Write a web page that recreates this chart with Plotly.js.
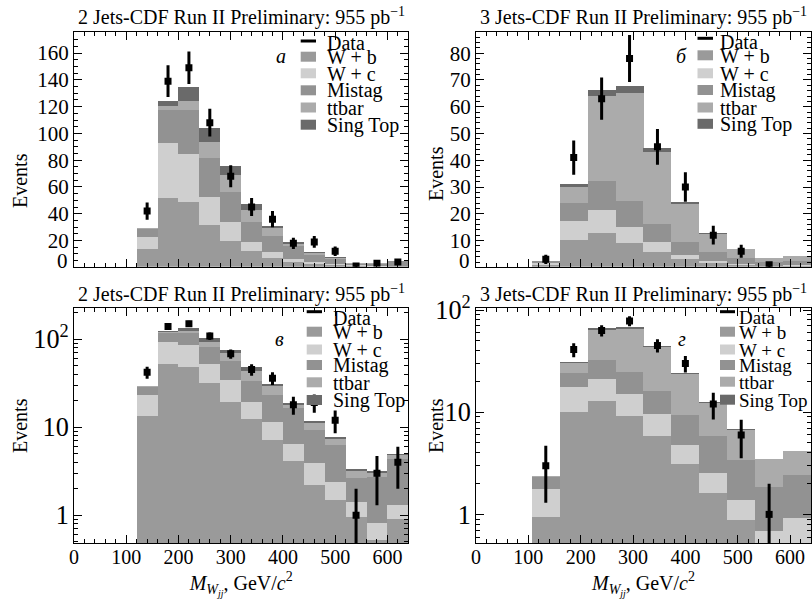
<!DOCTYPE html>
<html><head><meta charset="utf-8">
<script src="https://cdn.plot.ly/plotly-3.0.1.min.js"></script>
<style>html,body{margin:0;padding:0;background:#fff}#chart{width:812px;height:599px}</style>
</head><body><div id="chart"></div>
<script>
// ---------------- data ----------------
// 2 jets: bins of 40 GeV/c^2, centres
const mass2 = [140, 180, 220, 260, 300, 340, 380, 420, 460, 500, 540, 580, 620];
const binWidth2 = 40;
const wb2     = [13.5, 52, 48.5, 32, 19.5, 12.3, 7.1, 4.1, 2.2, 1.5, 0.96, 0.52, 0.9];
const wc2     = [9.5, 40.5, 36, 20.5, 14.5, 7.0, 4.4, 2.4, 1.7, 0.9, 0.46, 0.3, 0.4];
const mistag2 = [5.5, 25, 33, 29, 22.5, 14.3, 11.7, 9.8, 5.5, 3.85, 1.2, 1.9, 3.1];
const ttbar2  = [0.7, 3, 7, 12, 12.5, 9.5, 5.9, 1.5, 1.6, 1.0, 0.55, 0.3, 0.4];
const stop2   = [0.2, 3.5, 10, 10.5, 7, 4.5, 1.9, 0.8, 0.8, 0.5, 0.22, 0.17, 0.2];
const data2   = [42, 139, 149, 108, 68, 45, 36, 18, 19, 12, 1, 3, 4];
const err2    = [6.5, 11.8, 12.2, 10.4, 8.2, 6.7, 6.0, 4.2, 4.4, 3.5, 1, 1.7, 2];

// 3 jets: bins of 53.33 GeV/c^2, centres
const mass3 = [133.333, 186.667, 240, 293.333, 346.667, 400, 453.333, 506.667, 560, 613.333];
const binWidth3 = 53.4;
const wb3     = [0.95, 10.1, 13.0, 9.2, 5.9, 3.1, 1.63, 0.88, 0.45, 0.45];
const wc3     = [0.81, 7.4, 8.3, 5.9, 3.7, 1.7, 0.92, 0.5, 0.23, 0.48];
const mistag3 = [0.55, 6.5, 10.8, 9.8, 6.6, 4.6, 3.25, 2.02, 1.16, 1.5];
const ttbar3  = [0.05, 6.2, 31.8, 40.4, 26.9, 14.3, 6.6, 3.3, 1.65, 1.7];
const stop3   = [0.02, 1.0, 2.5, 2.3, 1.5, 0.6, 0.3, 0.17, 0.03, 0.04];
const data3   = [3, 41, 63, 78, 45, 30, 12, 6, 1, null];
const err3    = [1.7, 6.4, 7.9, 8.8, 6.7, 5.5, 3.5, 2.45, 1, 0];

const bgNames = ['W + b', 'W + c', 'Mistag', 'ttbar', 'Sing Top'];
const legendLabels = ['Data', 'W + b', 'W + c', 'Mistag', 'ttbar', 'Sing Top'];
const panelTitles = ['2 Jets-CDF Run II Preliminary: 955 pb<sup>−1</sup>',
                     '3 Jets-CDF Run II Preliminary: 955 pb<sup>−1</sup>',
                     '2 Jets-CDF Run II Preliminary: 955 pb<sup>−1</sup>',
                     '3 Jets-CDF Run II Preliminary: 955 pb<sup>−1</sup>'];
const panelLetters = ['а', 'б', 'в', 'г'];
const yTitle = 'Events';
const xTitle = '<i>M</i><sub><i>W</i><sub><i>jj</i></sub></sub>, GeV/<i>c</i><sup>2</sup>';

// ---------------- style ----------------
const colors = ['#9a9a9a', '#cfcfcf', '#929292', '#ababab', '#6a6a6a'];
const FONT = '"Liberation Serif", "Times New Roman", serif';
const L = 74, T = 32, W = 737, H = 511;
const px2x = X => (X - L) / W;
const py2y = Y => (T + H - Y) / H;

function panelTraces(xs, w, comps, data, err, xa, ya) {
  const tr = comps.map((vals, i) => ({
    type: 'bar', x: xs, y: vals, width: w, name: bgNames[i],
    marker: {color: colors[i], line: {width: 0}},
    xaxis: xa, yaxis: ya, showlegend: false, hoverinfo: 'skip'
  }));
  tr.push({
    type: 'scatter', mode: 'markers', x: xs, y: data, name: 'Data',
    error_y: {type: 'data', array: err, visible: true, color: '#000', thickness: 3, width: 0},
    marker: {symbol: 'square', size: 7, color: '#000'},
    xaxis: xa, yaxis: ya, showlegend: false
  });
  return tr;
}

const comps2 = [wb2, wc2, mistag2, ttbar2, stop2];
const comps3 = [wb3, wc3, mistag3, ttbar3, stop3];
const traces = [].concat(
  panelTraces(mass2, binWidth2, comps2, data2, err2, 'x', 'y'),
  panelTraces(mass3, binWidth3, comps3, data3, err3, 'x2', 'y2'),
  panelTraces(mass2, binWidth2, comps2, data2, err2, 'x3', 'y3'),
  panelTraces(mass3, binWidth3, comps3, data3, err3, 'x4', 'y4')
);

const tickFont = {family: FONT, size: 20, color: '#000'};
const yTickFont = {family: FONT, size: 21, color: '#000'};
function xAxis(domain, anchor, labels) {
  const a = {
    domain: domain, anchor: anchor, range: [0, 640],
    tickmode: 'linear', tick0: 0, dtick: 100,
    ticks: 'inside', ticklen: 8, tickwidth: 1, tickcolor: '#000',
    minor: {ticks: 'inside', dtick: 20, ticklen: 4, tickwidth: 1, tickcolor: '#000', showgrid: false},
    mirror: 'ticks', showline: true, linecolor: '#000', linewidth: 1,
    showgrid: false, zeroline: false, showticklabels: labels, tickfont: tickFont,
    ticklabelstandoff: -4
  };
  if (labels) a.title = {text: xTitle, font: {family: FONT, size: 20, color: '#000'}, standoff: 10};
  return a;
}
function yLin(domain, anchor, range, dtick, minor) {
  return {
    domain: domain, anchor: anchor, range: range,
    tickmode: 'linear', tick0: 0, dtick: dtick,
    ticks: 'inside', ticklen: 8, tickwidth: 1, tickcolor: '#000',
    minor: {ticks: 'inside', dtick: minor, ticklen: 4, tickwidth: 1, tickcolor: '#000', showgrid: false},
    mirror: 'ticks', showline: true, linecolor: '#000', linewidth: 1,
    showgrid: false, zeroline: false, tickfont: yTickFont
  };
}
function yLog(domain, anchor, range) {
  return {
    domain: domain, anchor: anchor, type: 'log', range: range,
    dtick: 1, exponentformat: 'power',
    ticks: 'inside', ticklen: 8, tickwidth: 1, tickcolor: '#000',
    minor: {ticks: 'inside', dtick: 'D1', ticklen: 4, tickwidth: 1, tickcolor: '#000', showgrid: false},
    mirror: 'ticks', showline: true, linecolor: '#000', linewidth: 1,
    showgrid: false, zeroline: false, tickfont: yTickFont
  };
}

const dLeft = [0, px2x(408.3)], dRight = [px2x(476), 1];
const dTop = [py2y(266.7), 1], dBot = [0, py2y(308.3)];

// ---------------- annotations & legend shapes ----------------
const annotations = [];
const shapes = [];
const titlePos = [[241, 17], [643, 17], [241, 293], [643, 293]];
titlePos.forEach((p, i) => annotations.push({
  xref: 'paper', yref: 'paper', x: px2x(p[0]), y: py2y(p[1]), xanchor: 'center', yanchor: 'middle',
  text: panelTitles[i], showarrow: false, font: {family: FONT, size: 20, color: '#000'}
}));
const letterPos = [[280.5, 56], [681, 56], [279, 339], [681.5, 339]];
letterPos.forEach((p, i) => annotations.push({
  xref: 'paper', yref: 'paper', x: px2x(p[0]), y: py2y(p[1]), xanchor: 'center', yanchor: 'middle',
  text: '<i>' + panelLetters[i] + '</i>', showarrow: false, font: {family: FONT, size: 20, color: '#000'}
}));
const evPos = [[20, 181], [436, 174], [20, 426], [436, 426]];
evPos.forEach(p => annotations.push({
  xref: 'paper', yref: 'paper', x: px2x(p[0]), y: py2y(p[1]), xanchor: 'center', yanchor: 'middle',
  text: yTitle, textangle: -90, showarrow: false, font: {family: FONT, size: 20, color: '#000'}
}));
// shifted "0" labels of the linear panels
[['x', 'y', 4.5], ['x2', 'y2', 2.2]].forEach(a => annotations.push({
  xref: a[0] + ' domain', yref: a[1], x: 0, y: a[2], xanchor: 'right', yanchor: 'middle', xshift: -4,
  text: '0', showarrow: false, font: yTickFont
}));

const legendPos = [
  {sx0: 300.7, sx1: 316, tx: 325, rows: [41, 56.7, 73.3, 90.3, 107.5, 124.7], dataText: 43, size: 20},
  {sx0: 697.5, sx1: 713, tx: 718, rows: [38.3, 55.3, 73.3, 90, 107.5, 123.8], dataText: 42.5, size: 20},
  {sx0: 306.7, sx1: 322, tx: 330.5, rows: [311.7, 331.7, 349.5, 365, 382.3, 400], dataText: 318, size: 20},
  {sx0: 720, sx1: 735, tx: 736.5, rows: [311.7, 331.7, 349.5, 365, 381.7, 399.7], dataText: 317, size: 19}
];
legendPos.forEach(lp => {
  legendLabels.forEach((lab, k) => {
    const yc = lp.rows[k];
    if (k === 0) {
      shapes.push({type: 'line', xref: 'paper', yref: 'paper', layer: 'above',
        x0: px2x(lp.sx0), x1: px2x(lp.sx1), y0: py2y(yc), y1: py2y(yc),
        line: {color: '#000', width: 3}});
    } else {
      shapes.push({type: 'rect', xref: 'paper', yref: 'paper', layer: 'above',
        x0: px2x(lp.sx0), x1: px2x(lp.sx1), y0: py2y(yc - 5), y1: py2y(yc + 5),
        fillcolor: colors[k - 1], line: {width: 0}});
    }
    annotations.push({xref: 'paper', yref: 'paper', x: px2x(lp.tx), y: py2y(k === 0 ? lp.dataText : yc + 0.5),
      xanchor: 'left', yanchor: 'middle', text: lab, showarrow: false,
      font: {family: FONT, size: lp.size, color: '#000'}});
  });
});

const layout = {
  width: 812, height: 599,
  margin: {l: L, r: 812 - L - W, t: T, b: 599 - T - H, pad: 0},
  paper_bgcolor: '#fff', plot_bgcolor: '#fff',
  barmode: 'stack', bargap: 0, showlegend: false,
  font: {family: FONT, color: '#000'},
  xaxis: xAxis(dLeft, 'y', false),
  yaxis: yLin(dTop, 'x', [0.5, 175.7], 20, 5),
  xaxis2: xAxis(dRight, 'y2', false),
  yaxis2: yLin(dTop, 'x2', [0.25, 87.9], 10, 2),
  xaxis3: xAxis(dLeft, 'y3', true),
  yaxis3: yLog(dBot, 'x3', [-0.315, 2.349]),
  xaxis4: xAxis(dRight, 'y4', true),
  yaxis4: yLog(dBot, 'x4', [-0.28, 2.017]),
  annotations: annotations,
  shapes: shapes
};

Plotly.newPlot('chart', traces, layout, {staticPlot: true, displayModeBar: false});
</script></body></html>
